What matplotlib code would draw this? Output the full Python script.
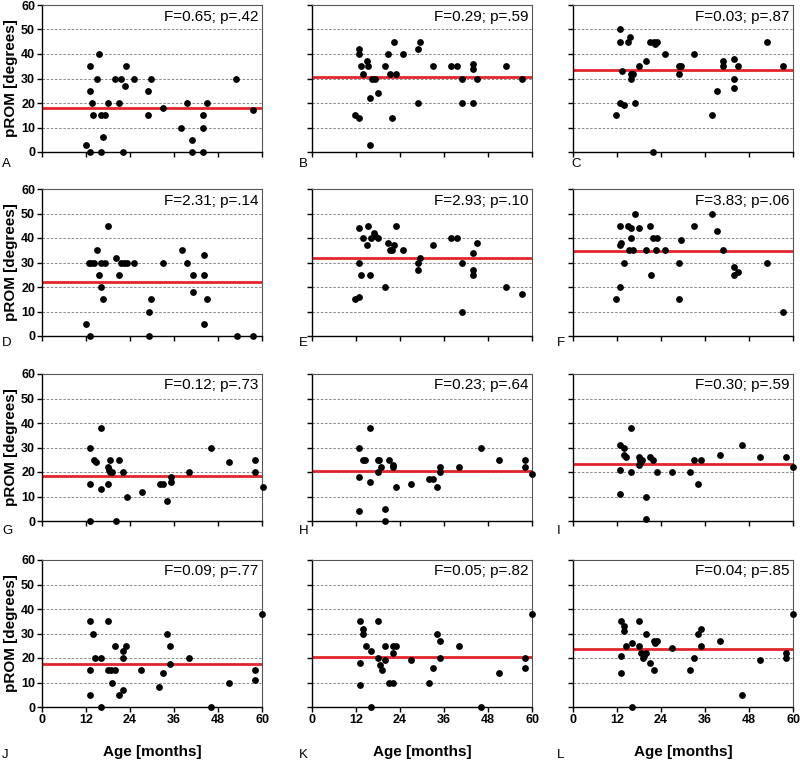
import matplotlib
matplotlib.use("Agg")
import matplotlib.pyplot as plt

plt.rcParams['font.family'] = ['Liberation Sans', 'DejaVu Sans']

# ---------------- data ----------------
panel_letters = ["A", "B", "C", "D", "E", "F", "G", "H", "I", "J", "K", "L"]
stats = ["F=0.65; p=.42", "F=0.29; p=.59", "F=0.03; p=.87",
         "F=2.31; p=.14", "F=2.93; p=.10", "F=3.83; p=.06",
         "F=0.12; p=.73", "F=0.23; p=.64", "F=0.30; p=.59",
         "F=0.09; p=.77", "F=0.05; p=.82", "F=0.04; p=.85"]
means = [18, 30.5, 33.5, 22, 32, 34.5, 18.4, 20.5, 23.4, 17.7, 20.3, 23.7]

age_A = [12.1, 13, 13, 13, 13.5, 14, 15, 15.6, 16, 16, 16.6, 17.2, 18, 20, 21, 21.6, 22, 22.5, 23, 25,
         29, 29, 29.6, 33, 38, 39.5, 41, 41, 44, 44, 44, 45, 53, 57.5]
rom_A = [3, 0, 25, 35, 20, 15, 30, 40, 15, 0, 6, 15, 20, 30, 20, 30, 0, 27, 35, 30,
         25, 15, 30, 18, 10, 20, 5, 0, 10, 15, 0, 20, 30, 17]

age_B = [11.8, 12.7, 12.9, 12.9, 13.4, 13.9, 14.9, 15.3, 15.7, 15.9, 16.3, 17.2, 17.9, 19.9, 20.8, 21.3,
         21.9, 22.4, 22.9, 24.9, 28.9, 28.9, 29.4, 33, 37.9, 39.5, 40.9, 40.9, 43.8, 43.8, 43.8, 45, 53, 57.4]
rom_B = [15, 14, 42, 40, 35, 32, 37, 35, 22, 3, 30, 30, 24, 35, 40, 32,
         14, 45, 32, 40, 42, 20, 45, 35, 35, 35, 30, 20, 36, 34, 20, 30, 35, 30]

age_C = [11.8, 12.8, 12.8, 12.8, 13.4, 13.9, 14.9, 15.5, 15.9, 15.9, 16.4, 16.9, 17.9, 19.9, 20.9, 21.9,
         22, 22.4, 23, 25, 28.9, 28.9, 29.5, 33, 38, 39.4, 41, 41, 44, 44, 44, 45, 53, 57.4]
rom_C = [15, 50, 45, 20, 33, 19, 45, 47, 30, 32, 32, 20, 35, 37, 45, 0,
         45, 44, 45, 40, 35, 32, 35, 40, 15, 25, 37, 35, 38, 30, 26, 35, 45, 35]

age_D = [12.1, 13, 12.8, 13.4, 14.1, 15.1, 15.6, 16.1, 16.1, 16.6, 17.2, 18.1, 20.1, 21.1, 21.6, 22.3,
         23.1, 25.1, 29.1, 29.1, 29.6, 33.1, 38.1, 39.5, 41.1, 41.1, 44.1, 44.1, 44.1, 45.1, 53.1, 57.6]
rom_D = [5, 0, 30, 30, 30, 35, 25, 20, 30, 15, 30, 45, 32, 25, 30, 30,
         30, 30, 10, 0, 15, 30, 35, 30, 25, 18, 33, 25, 5, 15, 0, 0]

age_E = [11.8, 12.7, 12.9, 12.9, 13.4, 13.9, 14.9, 15.3, 15.7, 16.1, 16.9, 17.2, 17.9, 19.9, 20.8, 21.4,
         21.9, 22.4, 22.9, 24.9, 28.9, 28.9, 29.4, 33, 37.9, 39.5, 40.9, 40.9, 43.8, 43.8, 43.8, 45, 53, 57.4]
rom_E = [15, 16, 44, 30, 25, 40, 37, 45, 25, 40, 42, 41, 40, 20, 38, 35,
         35, 37, 45, 35, 30, 27, 32, 37, 40, 40, 30, 10, 34, 27, 25, 38, 20, 17]

age_F = [11.8, 12.8, 12.8, 13.2, 12.8, 13.9, 14.9, 15.9, 15.9, 15.4, 16.4, 16.9, 17.9, 19.9, 20.9, 21.4,
         21.9, 22.5, 23, 25, 28.9, 28.9, 29.4, 33, 38, 39.4, 41, 44, 44, 45, 53, 57.4]
rom_F = [15, 20, 37, 38, 45, 30, 45, 44, 40, 35, 35, 50, 44, 35, 45, 25,
         40, 35, 40, 35, 30, 15, 39, 45, 50, 43, 35, 28, 25, 26, 30, 10]

age_G = [13, 13, 13, 14.1, 14.8, 16.1, 16.1, 18.1, 18.1, 18.6, 18.6, 19.2, 18.4, 20.1, 21.1, 22.1,
         23.1, 27.2, 32.1, 33.1, 34.1, 35.1, 35.1, 40.2, 46.1, 51.1, 58.2, 58.2, 60.2]
rom_G = [30, 15, 0, 25, 24, 38, 13, 22, 15, 25, 20, 20, 21, 0, 25, 20,
         10, 12, 15, 15, 8, 18, 16, 20, 30, 24, 25, 20, 14]

age_H = [12.9, 12.9, 12.9, 13.9, 14.5, 15.9, 15.9, 17.9, 18.4, 17.9, 18.9, 20, 20, 20.9, 22, 22,
         22.9, 26.9, 32, 33, 34, 35, 35, 40, 46, 51, 58, 58, 60]
rom_H = [30, 18, 4, 25, 25, 38, 16, 25, 25, 20, 22, 5, 0, 25, 23, 22,
         14, 15, 17, 17, 14, 22, 20, 22, 30, 25, 25, 22, 19]

age_I = [12.8, 12.8, 12.8, 13.9, 13.9, 14.4, 15.9, 15.9, 17.9, 17.9, 18.4, 18.9, 18.4, 19.9, 19.9,
         20.9, 21.9, 22.9, 26.9, 31.9, 33, 34, 35, 40, 46, 51, 58, 60]
rom_I = [31, 21, 11, 30, 27, 26, 38, 20, 26, 23, 25, 25, 23.5, 10, 1,
         26, 25, 20, 20, 20, 25, 15, 25, 27, 31, 26, 26, 22]

age_J = [13, 13, 13, 14, 14.5, 16, 16, 18, 18, 18.9, 19, 20, 20, 21, 22, 22, 22, 23,
         27, 32, 33, 34, 35, 35, 40, 46, 51, 58, 58, 60]
rom_J = [35, 15, 5, 30, 20, 20, 0, 35, 15, 15, 10, 25, 15, 5, 20, 23, 7, 25,
         15, 8, 14, 30, 25, 17.5, 20, 0, 10, 15, 11, 38]

age_K = [13, 13, 13, 14, 14, 14.6, 16, 16, 18, 18, 18.5, 19, 20, 20, 21, 22, 22, 22, 23,
         27, 32, 33, 34, 35, 35, 40, 46, 51, 58, 58, 60]
rom_K = [35, 18, 9, 32, 30, 25, 23, 0, 35, 20, 17, 15, 25, 19, 10, 25, 22, 10, 25,
         19, 10, 16, 30, 27, 20, 25, 0, 14, 20, 16, 38]

age_L = [13, 13, 13, 14, 14, 14.4, 16, 16, 18, 18, 18.5, 19, 19.4, 20, 20, 21, 22, 22, 23, 22.4,
         27, 32, 33, 34, 35, 35, 40, 46, 51, 58, 58, 60]
rom_L = [35, 21, 14, 33, 31, 25, 26, 0, 35, 25, 22, 20, 21, 30, 22, 18, 15, 27, 27, 26,
         24, 15, 20, 30, 32, 25, 27, 5, 19, 22, 20, 38]

ages = [age_A, age_B, age_C, age_D, age_E, age_F, age_G, age_H, age_I, age_J, age_K, age_L]
roms = [rom_A, rom_B, rom_C, rom_D, rom_E, rom_F, rom_G, rom_H, rom_I, rom_J, rom_K, rom_L]

x_ticks = [0, 12, 24, 36, 48, 60]
y_ticks = [0, 10, 20, 30, 40, 50, 60]

# ---------------- layout (pixels) ----------------
W, H = 800, 762
fig = plt.figure(figsize=(W / 100, H / 100), dpi=100)

col_left = [42, 312, 573]
row_top = [5, 189, 374, 560]
ax_w, ax_h = 220, 147
letter_x = [[2, 299, 571], [2, 299, 557], [2, 299, 557], [2, 299, 557]]
letter_y = [164, 343, 531, 755]

red = '#e3262c'

for i in range(12):
    r, c = divmod(i, 3)
    left = col_left[c] / W
    bottom = 1 - (row_top[r] + ax_h) / H
    ax = fig.add_axes([left, bottom, ax_w / W, ax_h / H])

    ax.set_xlim(0, 60)
    ax.set_ylim(0, 60)
    for yv in y_ticks[1:-1]:
        ax.axhline(yv, color='#777777', lw=0.6, ls=(0, (3, 2)), zorder=1)
    ax.axhline(means[i], color=red, lw=2.0, zorder=2)
    ax.scatter(ages[i], roms[i], s=24, color='black', zorder=3, clip_on=False,
               linewidths=0)

    ax.set_xticks(x_ticks)
    ax.set_yticks(y_ticks)
    ax.tick_params(direction='out', length=3.5, width=1.0, labelsize=9, pad=1.5)
    for lab in ax.get_xticklabels() + ax.get_yticklabels():
        lab.set_fontweight('bold')
    if c != 0:
        ax.set_yticklabels([])
    else:
        ax.set_ylabel('pROM [degrees]', fontsize=11, fontweight='bold', labelpad=2)
    if r != 3:
        ax.set_xticklabels([])
    else:
        ax.set_xlabel('Age [months]', fontsize=11, fontweight='bold', labelpad=14)

    for side in ['left', 'bottom']:
        ax.spines[side].set_color('black')
        ax.spines[side].set_linewidth(1.0)
    for side in ['top', 'right']:
        ax.spines[side].set_color('#555555')
        ax.spines[side].set_linewidth(0.8)

    ax.text(1 - 4 / ax_w, 1 - 11.5 / ax_h, stats[i], transform=ax.transAxes,
            ha='right', va='center', fontsize=11)

    fig.text(letter_x[r][c] / W, 1 - letter_y[r] / H, panel_letters[i],
             ha='left', va='center', fontsize=9.5)

fig.savefig('out.png', dpi=100)
